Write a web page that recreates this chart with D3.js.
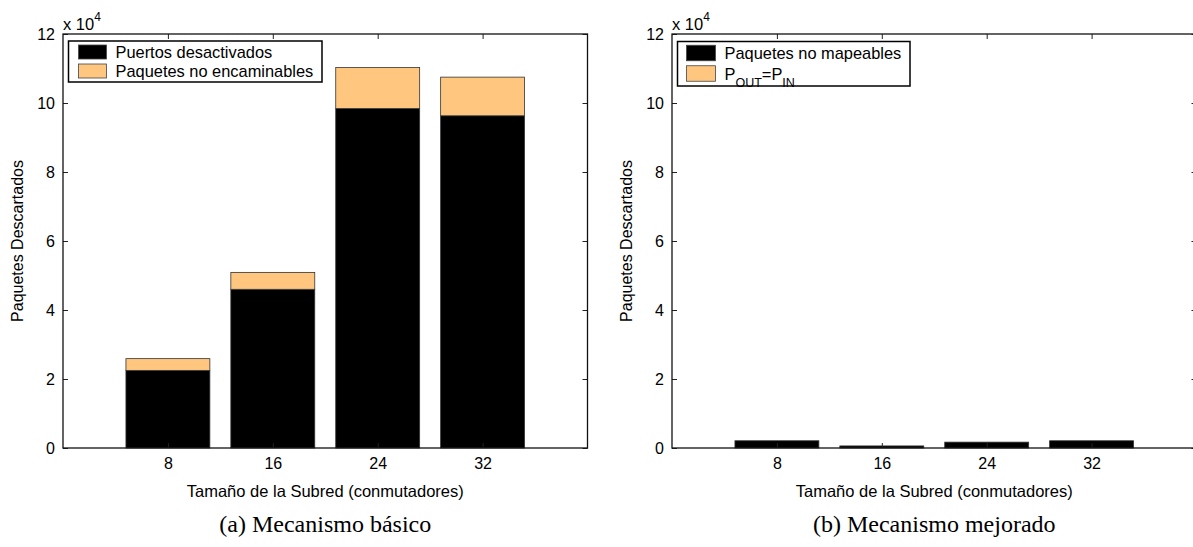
<!DOCTYPE html>
<html>
<head>
<meta charset="utf-8">
<script src="https://cdn.jsdelivr.net/npm/d3@7"></script>
<style>
  html, body { margin: 0; padding: 0; background: #fff; }
  svg text { font-family: "Liberation Sans", Arial, Helvetica, sans-serif; fill: #000; }
</style>
</head>
<body>
<svg id="chart" width="1193" height="547"></svg>
<script>
// Subnet sizes (switches) on the x axis
const subnetSizes = ["8", "16", "24", "32"];

// (a) Basic mechanism: discarded packets, stacked
const basicDisabledPorts = [22500, 46000, 98400, 96300];
const basicUnroutable    = [3400, 4900, 11900, 11200];

// (b) Improved mechanism: discarded packets, stacked
const improvedUnmappable = [2100, 600, 1700, 2100];
const improvedPoutEqPin  = [0, 0, 0, 0];

// y ticks (in units of 10^4)
const yTicks = [0, 2, 4, 6, 8, 10, 12];
const yMax = 120000;

const COLOR_DARK = "#000000";
const COLOR_LIGHT = "#ffc680";

const FONT = "'Liberation Sans', Arial, Helvetica, sans-serif";
const SERIF = "'Liberation Serif', 'Times New Roman', serif";

const svg = d3.select("#chart");

function drawPanel(cfg) {
  const { left, top, width, height, series, legend, caption } = cfg;
  const g = svg.append("g");

  const x = d3.scaleLinear().domain([0, subnetSizes.length + 1]).range([left, left + width]);
  const y = d3.scaleLinear().domain([0, yMax]).range([top + height, top]);
  const barW = 0.8;

  // stacked bars
  const stackData = subnetSizes.map((s, i) => {
    const row = { idx: i + 1 };
    series.forEach(se => { row[se.key] = se.values[i]; });
    return row;
  });
  const stacked = d3.stack().keys(series.map(s => s.key))(stackData);

  stacked.forEach((layer, li) => {
    g.append("g").selectAll("rect")
      .data(layer)
      .join("rect")
      .attr("x", d => x(d.data.idx - barW / 2))
      .attr("width", d => x(d.data.idx + barW / 2) - x(d.data.idx - barW / 2))
      .attr("y", d => y(d[1]))
      .attr("height", d => Math.max(0, y(d[0]) - y(d[1])))
      .attr("fill", series[li].color)
      .attr("stroke", "#333")
      .attr("stroke-width", 0.8)
      .style("display", d => (d[1] - d[0]) > 0 ? null : "none");
  });

  const tickVals = subnetSizes.map((s, i) => i + 1);

  // bottom axis with labels, ticks pointing inward
  const xAxis = d3.axisBottom(x).tickValues(tickVals)
    .tickFormat(v => subnetSizes[v - 1]).tickSizeInner(-5).tickSizeOuter(0).tickPadding(10);
  const gx = g.append("g").attr("transform", `translate(0,${top + height})`).call(xAxis);
  // top axis mirror ticks
  const gxt = g.append("g").attr("transform", `translate(0,${top})`)
    .call(d3.axisTop(x).tickValues(tickVals).tickFormat("").tickSizeInner(-5).tickSizeOuter(0));

  const yAxis = d3.axisLeft(y).tickValues(yTicks.map(t => t * 1e4))
    .tickFormat(v => String(v / 1e4)).tickSizeInner(-5).tickSizeOuter(0).tickPadding(8);
  const gy = g.append("g").attr("transform", `translate(${left},0)`).call(yAxis);
  const gyr = g.append("g").attr("transform", `translate(${left + width},0)`)
    .call(d3.axisRight(y).tickValues(yTicks.map(t => t * 1e4)).tickFormat("").tickSizeInner(-5).tickSizeOuter(0));

  [gx, gxt, gy, gyr].forEach(a => {
    a.select(".domain").remove();
    a.selectAll("line").attr("stroke", "#222").attr("stroke-width", 1);
    a.selectAll("text").attr("font-size", 16).attr("font-family", FONT).attr("fill", "#000");
  });

  // axes box
  g.append("rect")
    .attr("x", left).attr("y", top).attr("width", width).attr("height", height)
    .attr("fill", "none").attr("stroke", "#111").attr("stroke-width", 1.3);

  // exponent label
  const ex = g.append("text").attr("x", left).attr("y", top - 4)
    .attr("font-size", 16.5).attr("font-family", FONT);
  ex.append("tspan").text("x 10");
  ex.append("tspan").attr("font-size", 12).attr("dy", -9).text("4");

  // axis titles
  g.append("text")
    .attr("transform", `translate(${left - 40},${top + height / 2}) rotate(-90)`)
    .attr("text-anchor", "middle").attr("font-size", 16).attr("font-family", FONT)
    .text("Paquetes Descartados");
  g.append("text")
    .attr("x", left + width / 2).attr("y", top + height + 49)
    .attr("text-anchor", "middle").attr("font-size", 16.5).attr("font-family", FONT)
    .text("Tamaño de la Subred (conmutadores)");

  // caption
  g.append("text")
    .attr("x", left + width / 2).attr("y", top + height + 84)
    .attr("text-anchor", "middle").attr("font-size", 24)
    .attr("font-family", SERIF).style("font-family", SERIF)
    .text(caption);

  // legend
  const lg = g.append("g").attr("transform", `translate(${left + legend.dx},${top + legend.dy})`);
  lg.append("rect").attr("width", legend.w).attr("height", legend.h)
    .attr("fill", "#fff").attr("stroke", "#000").attr("stroke-width", 1.5);
  series.forEach((se, i) => {
    const rowY = legend.rows[i];
    lg.append("rect")
      .attr("x", legend.px).attr("y", rowY - legend.ph / 2)
      .attr("width", legend.pw).attr("height", legend.ph)
      .attr("fill", se.color).attr("stroke", "#444").attr("stroke-width", 0.8);
    const t = lg.append("text").attr("x", legend.tx).attr("y", rowY + 6)
      .attr("font-size", 16.4).attr("font-family", FONT);
    se.label.forEach(part => {
      const ts = t.append("tspan").text(part.t);
      if (part.sub) ts.attr("font-size", 12.5).attr("dy", 7);
      else if (part.back) ts.attr("dy", -7);
    });
  });
}

drawPanel({
  left: 63, top: 34, width: 524.5, height: 414,
  caption: "(a) Mecanismo básico",
  series: [
    { key: "disabled", values: basicDisabledPorts, color: COLOR_DARK, label: [{ t: "Puertos desactivados" }] },
    { key: "unroutable", values: basicUnroutable, color: COLOR_LIGHT, label: [{ t: "Paquetes no encaminables" }] }
  ],
  legend: { dx: 5.5, dy: 7, w: 253.5, h: 41, px: 10, pw: 28, ph: 14, tx: 47, rows: [11, 30] }
});

drawPanel({
  left: 672, top: 34, width: 524.5, height: 414,
  caption: "(b) Mecanismo mejorado",
  series: [
    { key: "unmappable", values: improvedUnmappable, color: COLOR_DARK, label: [{ t: "Paquetes no mapeables" }] },
    { key: "poutpin", values: improvedPoutEqPin, color: COLOR_LIGHT,
      label: [{ t: "P" }, { t: "OUT", sub: true }, { t: "=P", back: true }, { t: "IN", sub: true }] }
  ],
  legend: { dx: 5.5, dy: 7.5, w: 232.5, h: 44.5, px: 9, pw: 29, ph: 15.5, tx: 47, rows: [11.5, 32] }
});
</script>
</body>
</html>
